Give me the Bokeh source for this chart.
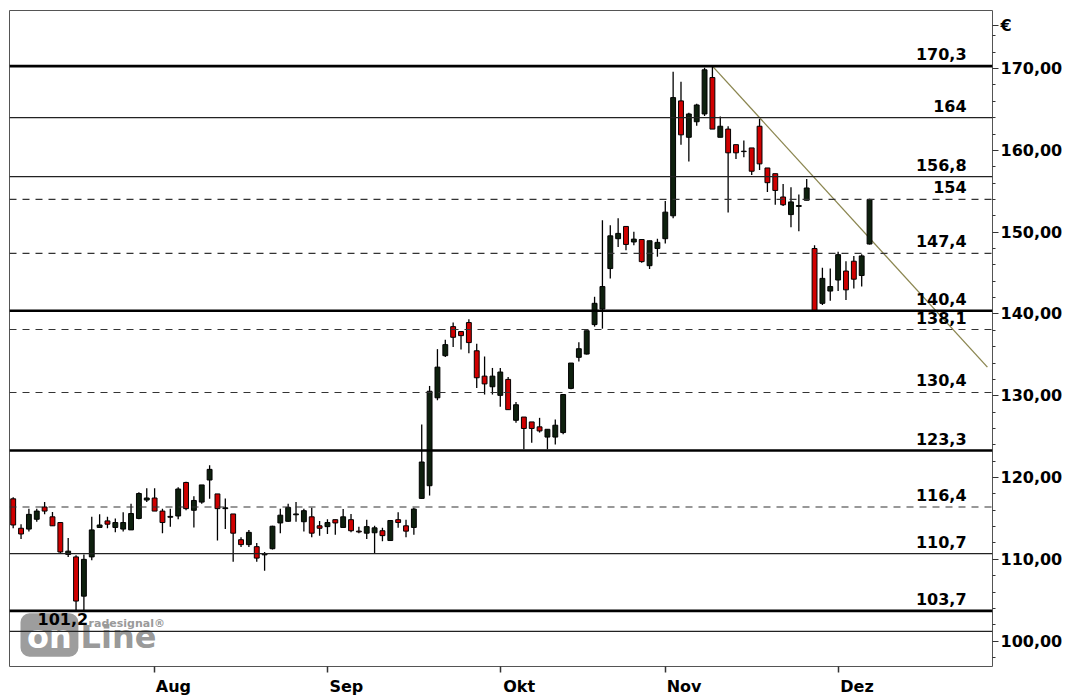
from bokeh.plotting import figure
from bokeh.models import Range1d, LinearAxis, FixedTicker, BoxAnnotation, Span, ColumnDataSource
from bokeh.core.properties import value
from bokeh.embed import file_html
from bokeh.resources import INLINE

# ---------------- data ----------------
opens = [117.4, 113.8, 113.7, 114.9, 116.4, 115.2, 114.5, 110.6, 110.3, 105.5,
         110.3, 113.9, 114.7, 113.9, 113.7, 113.6, 115.0, 117.25, 117.5, 115.9,
         115.15, 115.3, 119.4, 116.0, 117.0, 119.7, 118.0, 116.2, 115.55, 112.4,
         111.8, 111.55, 110.55, 111.3, 114.45, 114.65, 115.45, 114.6, 115.2, 114.1,
         114.0, 114.85, 113.9, 114.85, 113.45, 113.2, 113.25, 113.5, 112.3, 114.85,
         114.1, 113.9, 117.45, 119.0, 129.75, 134.9, 138.45, 137.85, 138.95, 135.5,
         132.4, 131.1, 130.05, 132.0, 127.0, 127.4, 126.8, 126.2, 124.95, 124.95,
         125.5, 130.9, 134.7, 135.1, 138.7, 140.6, 145.55, 149.2, 150.7, 148.8,
         149.1, 145.9, 148.0, 149.2, 152.0, 166.05, 161.6, 163.5, 164.45, 168.9,
         161.6, 162.6, 160.7, 159.85, 160.3, 162.95, 157.85, 157.15, 154.3, 152.15,
         153.15, 153.9, 148.0, 141.3, 142.8, 144.15, 145.25, 146.45, 144.7, 148.55]
highs = [117.6, 114.3, 116.2, 116.2, 117.0, 115.8, 114.5, 112.6, 110.5, 110.6,
         115.2, 115.5, 115.2, 115.0, 115.75, 116.8, 118.2, 118.7, 118.7, 116.2,
         116.2, 118.8, 119.5, 117.7, 119.1, 121.5, 118.0, 117.45, 115.55, 112.7,
         113.6, 112.0, 110.9, 114.1, 116.2, 116.8, 117.0, 116.2, 116.3, 114.7,
         114.9, 114.85, 116.15, 115.55, 114.0, 114.85, 114.1, 113.85, 114.75, 115.75,
         114.85, 116.3, 126.5, 131.2, 135.7, 136.85, 138.95, 137.85, 139.35, 136.35,
         134.8, 133.4, 133.4, 132.3, 129.25, 127.4, 126.8, 127.3, 125.9, 127.1,
         130.15, 134.0, 136.55, 137.95, 142.1, 151.45, 150.85, 151.7, 150.7, 150.05,
         149.1, 148.95, 149.2, 153.8, 169.6, 168.4, 164.6, 165.7, 170.1, 170.3,
         164.15, 162.95, 160.7, 161.2, 160.3, 163.85, 157.85, 157.15, 155.9, 155.5,
         154.6, 156.5, 148.4, 145.65, 145.55, 147.6, 146.45, 147.1, 147.3, 154.1]
lows = [113.8, 112.5, 113.4, 114.6, 115.5, 114.1, 110.7, 110.3, 103.7, 103.7,
        109.9, 113.9, 113.8, 113.3, 113.4, 113.6, 114.9, 117.0, 115.9, 113.2,
        114.0, 114.9, 116.0, 113.9, 116.8, 117.4, 112.3, 113.7, 109.7, 111.5,
        111.5, 109.7, 108.6, 111.2, 113.2, 114.6, 114.6, 113.4, 112.7, 112.9,
        113.1, 113.0, 113.9, 113.3, 113.2, 112.5, 110.7, 112.2, 112.3, 113.85,
        112.7, 113.0, 117.4, 117.8, 129.45, 134.75, 135.95, 135.65, 135.2, 130.95,
        130.15, 130.15, 128.65, 128.3, 126.7, 123.45, 124.25, 125.5, 123.45, 124.05,
        125.3, 130.8, 134.2, 135.05, 138.45, 138.2, 144.35, 148.2, 147.8, 148.4,
        146.25, 145.5, 147.0, 148.6, 151.7, 160.7, 158.65, 163.0, 164.2, 162.6,
        161.6, 152.4, 158.95, 159.15, 157.0, 157.6, 154.9, 153.35, 153.2, 150.6,
        150.1, 153.9, 140.3, 141.1, 141.6, 142.8, 141.7, 143.1, 143.35, 148.5]
closes = [114.2, 113.1, 115.5, 115.9, 115.9, 114.1, 110.9, 111.0, 104.9, 110.0,
          113.6, 114.2, 114.3, 114.5, 114.5, 115.6, 118.05, 117.5, 115.9, 114.5,
          115.25, 118.6, 116.2, 117.2, 119.1, 121.0, 116.2, 116.3, 113.2, 111.8,
          113.3, 110.15, 110.65, 114.05, 115.4, 116.35, 115.55, 115.95, 113.2, 113.8,
          114.5, 114.45, 115.2, 113.5, 113.35, 114.0, 113.85, 112.9, 114.75, 114.5,
          113.45, 116.15, 121.9, 130.55, 133.5, 136.25, 137.15, 137.35, 136.5, 132.2,
          131.45, 132.4, 132.9, 128.3, 128.9, 126.0, 126.0, 125.7, 125.9, 126.4,
          130.15, 134.0, 135.75, 137.95, 141.3, 143.35, 149.55, 149.85, 148.5, 149.15,
          146.4, 148.95, 148.75, 152.45, 166.45, 161.9, 164.45, 165.55, 169.85, 162.6,
          162.95, 159.7, 159.7, 159.9, 157.45, 158.35, 156.05, 155.1, 153.35, 153.7,
          153.25, 155.4, 140.3, 144.35, 143.35, 147.25, 142.95, 144.25, 147.1, 154.0]

levels = [170.3, 164.0, 156.8, 154.0, 147.4, 140.4, 138.1, 130.4, 123.3, 116.4, 110.7, 103.7, 101.2]
level_labels = ["170,3", "164", "156,8", "154", "147,4", "140,4", "138,1",
                "130,4", "123,3", "116,4", "110,7", "103,7", "101,2"]
level_kind = ["thick", "thin", "thin", "dash", "dash", "thick", "dash",
              "dash", "thick", "dash", "thin", "thick", "thin"]

month_names = ["Aug", "Sep", "Okt", "Nov", "Dez"]
month_start_idx = [18, 40, 62, 83, 105]

y_ticks = [100, 110, 120, 130, 140, 150, 160, 170]
y_tick_labels = ["100,00", "110,00", "120,00", "130,00", "140,00", "150,00", "160,00", "170,00"]
currency_label = "\u20ac"

trend_x = [89, 124]
trend_y = [170.3, 133.5]

# ---------------- figure ----------------
FONT = "DejaVu Sans"
n = len(opens)
idx = list(range(n))

p = figure(width=1068, height=698, output_backend="svg", toolbar_location=None,
           x_range=Range1d(-0.47, 124.65), y_range=Range1d(96.9, 177.1),
           x_axis_location=None, y_axis_location=None,
           min_border_left=9, min_border_top=10, min_border_right=76, min_border_bottom=32)
p.grid.visible = False
p.outline_line_color = "#555555"
p.outline_line_width = 1
p.background_fill_color = "white"
p.border_fill_color = "white"

# watermark logo
p.add_layout(BoxAnnotation(left=0.93, right=8.3, bottom=98.1, top=103.4,
                           fill_color="#8c8c8c", fill_alpha=0.85, line_color=None,
                           border_radius=9, level="underlay"))
p.text(x=[4.62], y=[100.45], text=["on"], text_color="white", text_font=value(FONT),
       text_font_style="bold", text_font_size="32px", text_align="center",
       text_baseline="middle")
p.text(x=[8.57], y=[100.56], text=["Line"], text_color="#8c8c8c", text_alpha=0.9,
       text_font=value(FONT), text_font_style="bold", text_font_size="32px",
       text_align="left", text_baseline="middle")
p.text(x=[9.6], y=[102.1], text=["radesignal\u00ae"], text_color="#9a9a9a",
       text_font=value(FONT), text_font_style="bold", text_font_size="11px",
       text_align="left", text_baseline="middle")

# horizontal levels
for lv, kind in zip(levels, level_kind):
    if kind == "thick":
        sp = Span(location=lv, dimension="width", line_color="black", line_width=2.6)
    elif kind == "thin":
        sp = Span(location=lv, dimension="width", line_color="#222222", line_width=1.2)
    else:
        sp = Span(location=lv, dimension="width", line_color="#333333", line_width=1.2,
                  line_dash="7 6")
    p.add_layout(sp)

# trend line
p.line(trend_x, trend_y, line_color="#8b8650", line_width=1.3)

# candles
up_color = "#0e200e"
down_color = "#d00000"
src = ColumnDataSource(dict(
    x=idx, high=highs, low=lows,
    top=[max(o, c) for o, c in zip(opens, closes)],
    bottom=[min(o, c) for o, c in zip(opens, closes)],
    color=[up_color if c >= o else down_color for o, c in zip(opens, closes)],
))
p.segment(x0="x", y0="high", x1="x", y1="low", source=src, line_color="black", line_width=1.3)
p.vbar(x="x", width=0.62, top="top", bottom="bottom", source=src,
       fill_color="color", line_color="black", line_width=1)

# level labels
lab_x = [3.1 if t == "101,2" else 121.35 for t in level_labels]
lab_align = ["left" if t == "101,2" else "right" for t in level_labels]
p.text(x=lab_x, y=levels, text=level_labels, text_align=lab_align, y_offset=-12,
       text_baseline="middle", text_font=value(FONT), text_font_style="bold",
       text_font_size="16px", text_color="black")

# right axis (with the currency sign as an extra label at the top)
euro_pos = 175.3
minor = [v for v in range(98, 175, 2) if v % 10 != 0]
overrides = {t: s for t, s in zip(y_ticks, y_tick_labels)}
overrides[euro_pos] = currency_label
ry = LinearAxis(ticker=FixedTicker(ticks=y_ticks + [euro_pos], minor_ticks=minor),
                major_label_overrides=overrides,
                axis_line_color=None, major_tick_in=0, major_tick_out=6,
                minor_tick_in=0, minor_tick_out=3,
                major_tick_line_color="#333333", minor_tick_line_color="#333333",
                major_label_standoff=2, major_label_text_font=FONT,
                major_label_text_font_style="bold", major_label_text_font_size="16px",
                major_label_text_color="black")
p.add_layout(ry, "right")

# bottom axis: tick marks at month starts (drawn as minor ticks),
# month names placed just to the right of each tick
lab_pos = [m + 2.4 for m in month_start_idx]
bx = LinearAxis(ticker=FixedTicker(ticks=lab_pos, minor_ticks=month_start_idx),
                major_label_overrides={t: s for t, s in zip(lab_pos, month_names)},
                axis_line_color=None, major_tick_line_color=None,
                major_tick_in=0, major_tick_out=0,
                minor_tick_in=0, minor_tick_out=6,
                minor_tick_line_color="#333333", minor_tick_line_width=1.5,
                major_label_standoff=4,
                major_label_text_font=FONT, major_label_text_font_style="bold",
                major_label_text_font_size="16px", major_label_text_color="black")
p.add_layout(bx, "below")

open("out.html", "w").write(file_html(p, INLINE))
